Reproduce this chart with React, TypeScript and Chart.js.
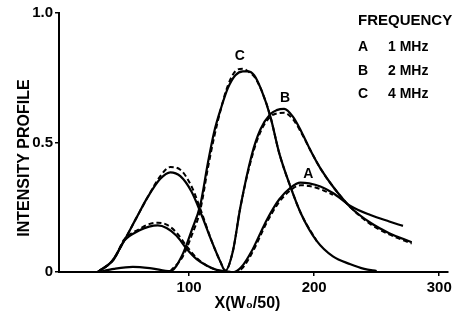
import { useEffect, useRef } from "react";
import { Chart, registerables } from "chart.js";

Chart.register(...registerables);

// ---- Data ----
const xTickValues = [100, 200, 300];
const yTickValues = [0, 0.5, 1.0];
const yTickLabels = ["0", "0.5", "1.0"];
const curveNames = ["A", "B", "C"];
const frequencies = ["1 MHz", "2 MHz", "4 MHz"];
const legendTitle = "FREQUENCY";
const xTitle = "X(W\u2080/50)";
const yTitle = "INTENSITY PROFILE";

// Curve A (1 MHz)
const aX = [27, 40, 48, 60, 68, 75, 82, 90, 98, 106, 114, 122, 130, 136, 142, 150, 157, 162, 172, 181, 189, 196, 205, 215, 229, 245, 260, 271];
const aY = [0, 0.05, 0.12, 0.16, 0.175, 0.18, 0.17, 0.14, 0.09, 0.05, 0.025, 0.008, 0.002, 0, 0.02, 0.08, 0.15, 0.2, 0.28, 0.325, 0.345, 0.342, 0.33, 0.305, 0.255, 0.22, 0.195, 0.178];
const aDashX = [27, 40, 48, 60, 68, 75, 82, 90, 98, 106, 114, 122, 130, 136, 142, 150, 162, 172, 181, 189, 196, 205, 215];
const aDashY = [0, 0.05, 0.125, 0.165, 0.185, 0.19, 0.183, 0.152, 0.1, 0.055, 0.025, 0.008, 0.002, 0, 0.012, 0.07, 0.19, 0.27, 0.315, 0.335, 0.332, 0.32, 0.298];

// Curve B (2 MHz)
const bX = [27, 38, 48, 58, 67, 77, 85, 93, 102, 110, 118, 125, 129, 135, 141, 150, 157, 165, 170, 176, 183, 190, 197, 205, 215, 229, 245, 260, 278];
const bY = [0, 0.04, 0.12, 0.21, 0.29, 0.36, 0.385, 0.37, 0.31, 0.22, 0.12, 0.04, 0.005, 0.08, 0.25, 0.45, 0.55, 0.61, 0.625, 0.63, 0.6, 0.54, 0.47, 0.4, 0.33, 0.25, 0.19, 0.15, 0.115];
const bDashX = [27, 38, 48, 58, 67, 77, 85, 93, 102, 110, 118, 125, 129, 135, 141, 150, 157, 165, 170, 176, 183, 190, 197, 205, 215, 229, 245, 260, 278];
const bDashY = [0, 0.04, 0.12, 0.21, 0.29, 0.37, 0.405, 0.395, 0.33, 0.23, 0.12, 0.04, 0.005, 0.08, 0.25, 0.44, 0.54, 0.6, 0.612, 0.615, 0.59, 0.535, 0.47, 0.4, 0.33, 0.25, 0.185, 0.145, 0.11];

// Curve C (4 MHz)
const cX = [28, 40, 55, 70, 85, 95, 102, 109, 115, 120, 126, 131, 137, 143, 147, 152, 158, 165, 172, 181, 190, 202, 215, 229, 240, 250];
const cY = [0, 0.012, 0.02, 0.014, 0.003, 0.07, 0.16, 0.26, 0.42, 0.54, 0.64, 0.71, 0.76, 0.775, 0.775, 0.76, 0.7, 0.6, 0.46, 0.33, 0.22, 0.12, 0.06, 0.03, 0.012, 0.004];
const cDashX = [85, 95, 102, 109, 115, 120, 126, 131, 137, 143, 147, 152, 158, 165, 172, 181, 190, 202];
const cDashY = [0.003, 0.06, 0.14, 0.24, 0.4, 0.52, 0.64, 0.72, 0.775, 0.785, 0.775, 0.755, 0.7, 0.6, 0.46, 0.33, 0.22, 0.12];

const zip = (xs: number[], ys: number[]) => xs.map((x, i) => ({ x, y: ys[i] }));

const FONT = '"Liberation Sans", Arial, Helvetica, sans-serif';

export default function App() {
  const ref = useRef<HTMLCanvasElement | null>(null);

  useEffect(() => {
    if (!ref.current) return;

    const solid = (name: string, xs: number[], ys: number[]) => ({
      label: name,
      data: zip(xs, ys),
      borderColor: "#000",
      borderWidth: 2.2,
      pointRadius: 0,
      cubicInterpolationMode: "monotone" as const,
      fill: false,
    });
    const dashed = (name: string, xs: number[], ys: number[]) => ({
      label: name + " (dashed)",
      data: zip(xs, ys),
      borderColor: "#000",
      borderWidth: 2,
      borderDash: [5, 3],
      pointRadius: 0,
      cubicInterpolationMode: "monotone" as const,
      fill: false,
    });

    const labelOffsets: Record<string, [number, number]> = {
      A: [8, -9],
      B: [1, -11],
      C: [-3, -15],
    };

    const textPlugin = {
      id: "texts",
      afterDatasetsDraw(chart: any) {
        const { ctx, scales, chartArea } = chart;
        ctx.save();
        ctx.fillStyle = "#000";
        // peak labels
        ctx.font = `bold 14px ${FONT}`;
        ctx.textAlign = "center";
        ctx.textBaseline = "middle";
        for (let i = 0; i < 3; i++) {
          const ds = chart.data.datasets[i];
          let best = ds.data[0];
          for (const p of ds.data) if (p.y > best.y) best = p;
          const px = scales.x.getPixelForValue(best.x);
          const py = scales.y.getPixelForValue(best.y);
          const [dx, dy] = labelOffsets[curveNames[i]];
          ctx.fillText(curveNames[i], px + dx, py + dy);
        }
        // legend block
        ctx.textAlign = "left";
        ctx.font = `bold 15px ${FONT}`;
        ctx.fillText(legendTitle, 358, 21);
        const rows = [47, 71, 94];
        ctx.font = `bold 14px ${FONT}`;
        for (let i = 0; i < 3; i++) {
          ctx.fillText(curveNames[i], 358, rows[i]);
          ctx.fillText(frequencies[i], 388, rows[i]);
        }
        // axis titles
        ctx.font = `bold 16px ${FONT}`;
        ctx.textAlign = "center";
        ctx.fillText(xTitle, (chartArea.left + chartArea.right) / 2 - 6, 304);
        ctx.translate(25, 158);
        ctx.rotate(-Math.PI / 2);
        ctx.fillText(yTitle, 0, 0);
        ctx.restore();
      },
    };

    const chart = new Chart(ref.current, {
      type: "line",
      data: {
        datasets: [
          solid("A", aX, aY),
          solid("B", bX, bY),
          solid("C", cX, cY),
          dashed("A", aDashX, aDashY),
          dashed("B", bDashX, bDashY),
          dashed("C", cDashX, cDashY),
        ],
      },
      options: {
        animation: false,
        responsive: true,
        maintainAspectRatio: false,
        layout: { padding: { top: 13, right: 13, left: 0, bottom: 0 } },
        plugins: { legend: { display: false }, tooltip: { enabled: false } },
        scales: {
          x: {
            type: "linear",
            min: -4,
            max: 307,
            afterFit: (s: any) => {
              s.height = 42;
            },
            afterBuildTicks: (s: any) => {
              s.ticks = xTickValues.map((v) => ({ value: v }));
            },
            border: { display: true, color: "#000", width: 2 },
            grid: { display: true, drawOnChartArea: false, drawTicks: true, tickLength: 4, color: "#000", lineWidth: 1.5 },
            ticks: {
              color: "#000",
              font: { family: FONT, size: 15, weight: "bold" },
              padding: 3,
              maxRotation: 0,
              callback: (v: any) => String(v),
            },
          },
          y: {
            type: "linear",
            min: 0,
            max: 1,
            afterFit: (s: any) => {
              s.width = 59;
            },
            afterBuildTicks: (s: any) => {
              s.ticks = yTickValues.map((v) => ({ value: v }));
            },
            border: { display: true, color: "#000", width: 2 },
            grid: { display: true, drawOnChartArea: false, drawTicks: true, tickLength: 4, color: "#000", lineWidth: 1.5 },
            ticks: {
              color: "#000",
              font: { family: FONT, size: 15, weight: "bold" },
              padding: 2,
              callback: (v: any) => {
                const i = yTickValues.indexOf(Number(v));
                return i >= 0 ? yTickLabels[i] : "";
              },
            },
          },
        },
      },
      plugins: [textPlugin],
    });

    return () => chart.destroy();
  }, []);

  return (
    <div style={{ position: "fixed", left: 0, top: 0, width: 461, height: 314, background: "#fff" }}>
      <canvas ref={ref} />
    </div>
  );
}
